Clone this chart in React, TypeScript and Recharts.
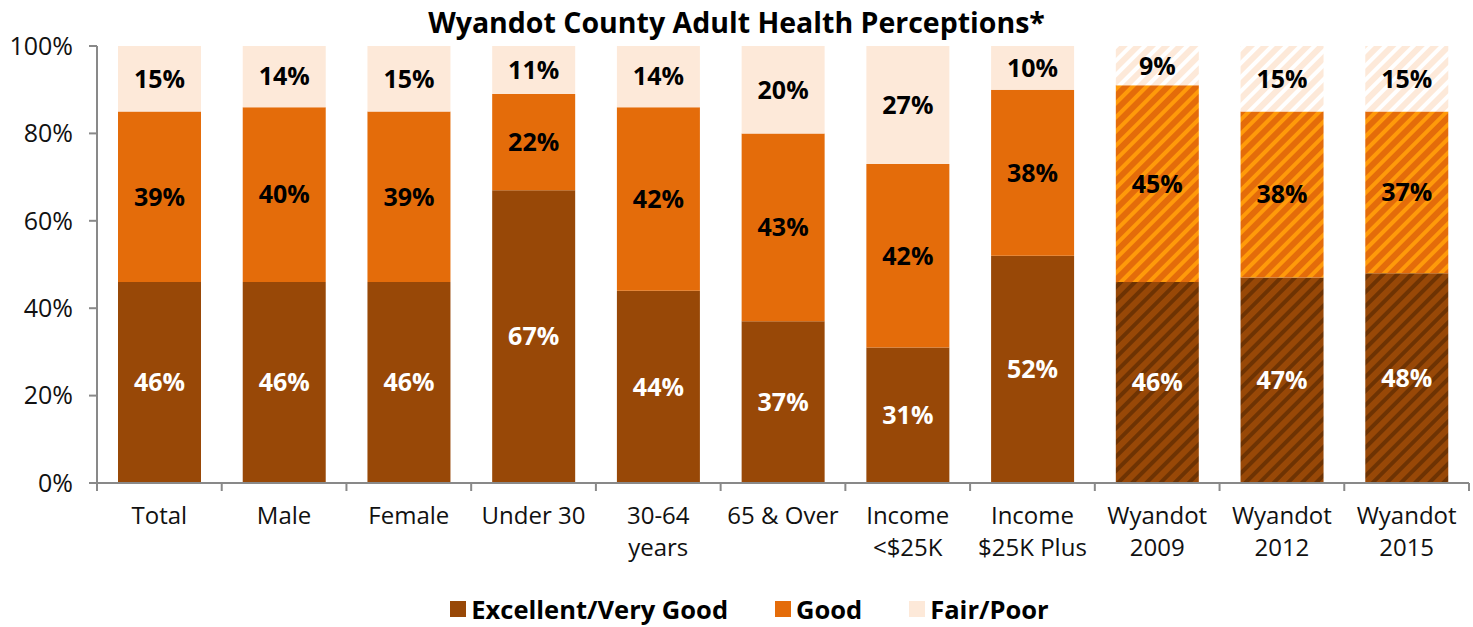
import { BarChart, Bar, XAxis, YAxis, Legend, LabelList, Cell } from 'recharts';

const categories = [
  'Total',
  'Male',
  'Female',
  'Under 30',
  '30-64\nyears',
  '65 & Over',
  'Income\n<$25K',
  'Income\n$25K Plus',
  'Wyandot\n2009',
  'Wyandot\n2012',
  'Wyandot\n2015',
];
const excellent = [46, 46, 46, 67, 44, 37, 31, 52, 46, 47, 48];
const good = [39, 40, 39, 22, 42, 43, 42, 38, 45, 38, 37];
const fair = [15, 14, 15, 11, 14, 20, 27, 10, 9, 15, 15];
const yTicks = [0, 20, 40, 60, 80, 100];
// the last three columns (county trend years) are hatched
const hatched = [false, false, false, false, false, false, false, false, true, true, true];

const data = categories.map((name, i) => ({
  name,
  excellent: excellent[i],
  good: good[i],
  fair: fair[i],
}));

const W = 1473;
const H = 627;
const LEFT = 97;
const RIGHT = 4;
const STEP = (W - LEFT - RIGHT) / categories.length;
const FONT = '"Open Sans", "Noto Sans", sans-serif';

const series = [
  { key: 'excellent', name: 'Excellent/Very Good', color: '#984807', stripe: '#6e3303', pat: 'patEx', label: '#fff' },
  { key: 'good', name: 'Good', color: '#E46C0A', stripe: '#FF9A0A', pat: 'patGood', label: '#000' },
  { key: 'fair', name: 'Fair/Poor', color: '#FDE9D9', stripe: '#ffffff', pat: 'patFair', label: '#000' },
];

function XTick(props: any) {
  const { x, y, payload, index } = props;
  const lines = String(payload.value).split('\n');
  const left = x - STEP / 2;
  return (
    <g>
      <line x1={left} y1={y} x2={left} y2={y + 8} stroke="#898989" strokeWidth={2} />
      {index === categories.length - 1 && (
        <line x1={x + STEP / 2} y1={y} x2={x + STEP / 2} y2={y + 8} stroke="#898989" strokeWidth={2} />
      )}
      <text x={x} y={y + 41} textAnchor="middle" fontSize={24} fill="#111" fontFamily={FONT}>
        {lines.map((l, i) => (
          <tspan key={i} x={x} dy={i === 0 ? 0 : 32}>
            {l}
          </tspan>
        ))}
      </text>
    </g>
  );
}

function LegendContent() {
  return (
    <div style={{ display: 'flex', justifyContent: 'center', alignItems: 'center', gap: 47, fontFamily: FONT, fontWeight: 700, fontSize: 25.5, height: 36, paddingLeft: 30 }}>
      {series.map((s) => (
        <div key={s.key} style={{ display: 'flex', alignItems: 'center', gap: 5 }}>
          <span style={{ width: 16, height: 16, background: s.color, display: 'inline-block' }} />
          <span>{s.name}</span>
        </div>
      ))}
    </div>
  );
}

export default function App() {
  return (
    <div style={{ position: 'absolute', left: 0, top: 0, width: W, height: H, background: '#fff' }}>
      <div
        style={{
          position: 'absolute',
          top: 0,
          left: 0,
          width: W,
          textAlign: 'center',
          fontFamily: FONT,
          fontWeight: 700,
          fontSize: 28.5,
          lineHeight: '44px',
          color: '#000',
        }}
      >
        Wyandot County Adult Health Perceptions*
      </div>
      <BarChart width={W} height={H} data={data} margin={{ top: 46, right: RIGHT, bottom: 0, left: 0 }}>
        <defs>
          {series.map((s) => (
            <pattern key={s.pat} id={s.pat} width={10} height={10} patternUnits="userSpaceOnUse" patternTransform="rotate(45)">
              <rect width={10} height={10} fill={s.color} />
              <rect width={4} height={10} fill={s.stripe} />
            </pattern>
          ))}
        </defs>
        <XAxis
          dataKey="name"
          interval={0}
          height={108}
          tickLine={false}
          tickSize={0}
          tickMargin={0}
          axisLine={{ stroke: '#898989', strokeWidth: 2 }}
          tick={<XTick />}
        />
        <YAxis
          width={LEFT}
          domain={[0, 100]}
          ticks={yTicks}
          tickFormatter={(v) => `${v}%`}
          tickSize={8}
          tickMargin={16}
          axisLine={{ stroke: '#898989', strokeWidth: 2 }}
          tickLine={{ stroke: '#898989', strokeWidth: 2 }}
          tick={{ fontSize: 25, fill: '#111', fontFamily: FONT }}
        />
        <Legend verticalAlign="bottom" height={36} content={<LegendContent />} />
        {series.map((s) => (
          <Bar key={s.key} dataKey={s.key} name={s.name} stackId="a" fill={s.color} barSize={83} isAnimationActive={false}>
            {data.map((_, i) => (
              <Cell key={i} fill={hatched[i] ? `url(#${s.pat})` : s.color} />
            ))}
            <LabelList
              dataKey={s.key}
              position="center"
              formatter={(v: any) => `${v}%`}
              fill={s.label}
              fontSize={25}
              fontWeight={700}
              fontFamily={FONT}
            />
          </Bar>
        ))}
      </BarChart>
    </div>
  );
}
